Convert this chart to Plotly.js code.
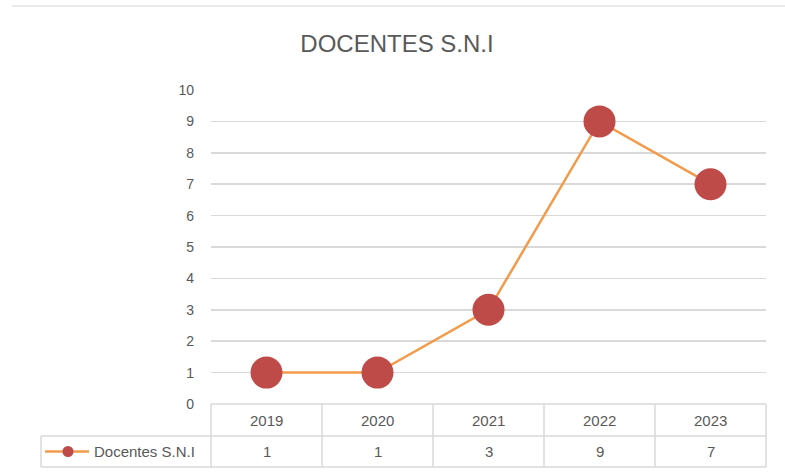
<!DOCTYPE html>
<html>
<head>
<meta charset="utf-8">
<script src="https://cdn.plot.ly/plotly-3.0.1.min.js"></script>
<style>html,body{margin:0;padding:0;background:#fff;}#chart{width:785px;height:472px;}</style>
</head>
<body>
<div id="chart"></div>
<script>
const categories = ["2019", "2020", "2021", "2022", "2023"];
const values = [1, 1, 3, 9, 7];
const seriesName = "Docentes S.N.I";
const chartTitle = "DOCENTES S.N.I";
const yTicks = [0, 1, 2, 3, 4, 5, 6, 7, 8, 9, 10];

const FONT = "Liberation Sans, Arial, sans-serif";
const gray = "#595959";
const lineColor = "#F39B4C";
const markerColor = "#BE4B48";
const tableLine = "#d9d9d9";

// geometry (pixel layout of the plot area)
const W = 785, H = 472;
const L = 211, R = 19, T = 90, B = 68;
const plotW = W - L - R, plotH = H - T - B;
const px2x = p => (p - L) / plotW;
const py2y = p => (H - B - p) / plotH;

const rowTop = py2y(404), rowMid = py2y(436), rowBot = py2y(467);
const tableLeft = px2x(41);

const shapes = [];
const lineStyle = {color: tableLine, width: 1.5};
// horizontal table lines
shapes.push({type: "line", xref: "paper", yref: "paper", x0: 0, x1: 1, y0: rowTop, y1: rowTop, line: lineStyle});
shapes.push({type: "line", xref: "paper", yref: "paper", x0: tableLeft, x1: 1, y0: rowMid, y1: rowMid, line: lineStyle});
shapes.push({type: "line", xref: "paper", yref: "paper", x0: tableLeft, x1: 1, y0: rowBot, y1: rowBot, line: lineStyle});
// vertical table lines
for (let k = 0; k <= categories.length; k++) {
  const xp = k / categories.length;
  shapes.push({type: "line", xref: "paper", yref: "paper", x0: xp, x1: xp, y0: rowTop, y1: rowBot, line: lineStyle});
}
shapes.push({type: "line", xref: "paper", yref: "paper", x0: tableLeft, x1: tableLeft, y0: rowMid, y1: rowBot, line: lineStyle});
// outer chart border top
shapes.push({type: "line", xref: "paper", yref: "paper", x0: px2x(12), x1: px2x(790), y0: py2y(6), y1: py2y(6), line: {color: "#e3e3e3", width: 1.5}});
// legend key in table
const legY = (rowMid + rowBot) / 2;
shapes.push({type: "line", xref: "paper", yref: "paper", x0: px2x(45), x1: px2x(89), y0: legY, y1: legY, line: {color: lineColor, width: 2.5}});
shapes.push({type: "circle", xref: "paper", yref: "paper", x0: px2x(62.5), x1: px2x(73.5), y0: legY - 5.5 / plotH, y1: legY + 5.5 / plotH, fillcolor: markerColor, line: {width: 0}});

const annotations = [];
categories.forEach((c, i) => {
  annotations.push({xref: "x", yref: "paper", x: i, y: (rowTop + rowMid) / 2, text: c, showarrow: false,
    font: {family: FONT, size: 15, color: gray}, xanchor: "center", yanchor: "middle"});
  annotations.push({xref: "x", yref: "paper", x: i, y: legY, text: String(values[i]), showarrow: false,
    font: {family: FONT, size: 15, color: gray}, xanchor: "center", yanchor: "middle"});
});
annotations.push({xref: "paper", yref: "paper", x: px2x(92), y: legY, text: seriesName, showarrow: false,
  font: {family: FONT, size: 15, color: gray}, xanchor: "left", yanchor: "middle"});

const trace = {
  type: "scatter", mode: "lines+markers", x: categories, y: values, name: seriesName,
  line: {color: lineColor, width: 2.5},
  marker: {color: markerColor, size: 32, line: {width: 0}},
  cliponaxis: false, showlegend: false
};

const layout = {
  width: W, height: H,
  margin: {l: L, r: R, t: T, b: B, pad: 0},
  paper_bgcolor: "#fff", plot_bgcolor: "#fff",
  title: {text: chartTitle, font: {family: FONT, size: 24, color: gray},
    x: px2x(397), xref: "paper", xanchor: "center", y: 1 - 44 / H, yref: "container", yanchor: "middle"},
  xaxis: {type: "category", range: [-0.5, categories.length - 0.5], showticklabels: false,
    showgrid: false, zeroline: false, showline: false, ticks: "", fixedrange: true},
  yaxis: {range: [0, 10], tickvals: yTicks, ticktext: yTicks.map(String), showgrid: true,
    gridcolor: "#d9d9d9", gridwidth: 1.5, zeroline: false, showline: false, ticks: "",
    ticklabelstandoff: 16, tickfont: {family: FONT, size: 14, color: gray}, fixedrange: true},
  shapes: shapes, annotations: annotations, showlegend: false
};

Plotly.newPlot("chart", [trace], layout, {displayModeBar: false, staticPlot: true});
</script>
</body>
</html>
